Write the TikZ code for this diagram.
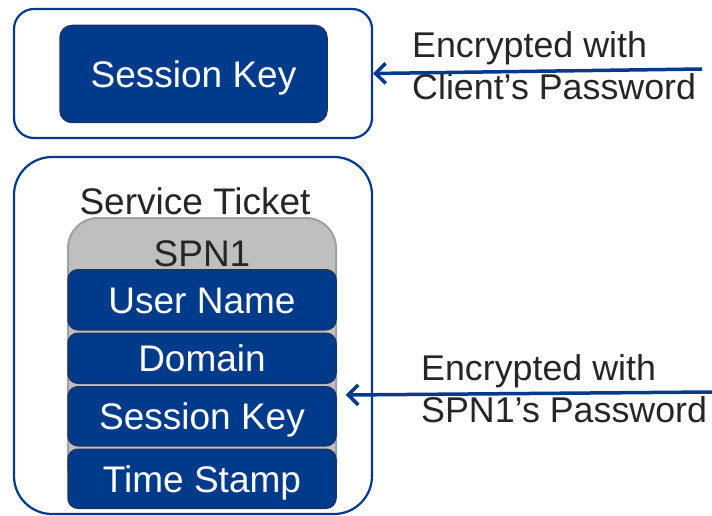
\documentclass[tikz,border=0pt]{standalone}
\usepackage{fontspec}
\setmainfont{Liberation Sans}
\usetikzlibrary{positioning,arrows.meta}

\definecolor{kblu}{RGB}{0,58,138}
\definecolor{kbordo}{RGB}{22,52,104}
\definecolor{kgrigio}{RGB}{38,38,38}
\definecolor{ksfondo}{RGB}{191,191,191}
\definecolor{klinea}{RGB}{160,160,160}

\begin{document}
\begin{tikzpicture}[x=1pt, y=-1pt,
    cornice/.style={draw=kblu, line width=2.2pt, rounded corners=20pt,
                    minimum width=358pt, inner sep=0pt},
    campo/.style={draw=kbordo, fill=kblu, line width=1.5pt, rounded corners=10pt,
                  text=white, font=\fontsize{37}{40}\selectfont,
                  text height=26.5pt, text depth=0pt,
                  minimum width=268pt, inner sep=0pt},
    testo/.style={text=kgrigio, font=\fontsize{37}{40}\selectfont,
                  text height=26.5pt, text depth=0pt, inner sep=0pt},
    nota/.style={align=left, anchor=north west, inner sep=0pt, text=kgrigio,
                 font=\fontsize{35.8}{42}\selectfont},
    freccia/.style={kblu, line width=3.5pt, -{Straight Barb[length=10pt,width=20pt]}}]

    % Area del disegno
    \fill[white] (0,0) rectangle (712,516);
    \useasboundingbox (0,0) rectangle (712,516);

    % Chiave di sessione in alto
    \node[cornice, minimum height=129pt] (alto) at (193,73.5) {};
    \node[campo, minimum width=267pt, minimum height=97pt, rounded corners=12pt]
        (chiave) at (193.5,74) {Session Key};

    % Il ticket di servizio
    \node[cornice, rounded corners=38pt, minimum height=357pt] (basso) at (193,335.5) {};
    \node[testo] (titolo) at (195,201.5) {Service Ticket};
    \node[draw=klinea, fill=ksfondo, line width=2pt, rounded corners=30pt,
          minimum width=268pt, minimum height=278pt, anchor=north] (spn) at (202,217) {};
    \node[testo] (nomespn) at ([yshift=-36pt]spn.north) {SPN1};

    % I campi uno sotto l'altro
    \node[campo, minimum height=60pt, anchor=north] (utente) at (202,269) {User Name};
    \node[campo, minimum height=50pt, below=2pt of utente] (dominio) {Domain};
    \node[campo, minimum height=59pt, below=2pt of dominio] (sessione) {Session Key};
    \node[campo, minimum height=59pt, below=2pt of sessione] (orario) {Time Stamp};

    % Le note a destra
    \node[nota] (nota1) at (412,31) {Encrypted with\\Client’s Password};
    \node[nota] (nota2) at (421,354) {Encrypted with\\SPN1’s Password};

    % Frecce
    \coordinate (coda1) at (702,69);
    \coordinate (coda2) at (712,392);
    \draw[freccia] (coda1) -- (alto.east);
    \draw[freccia] (coda2) -- ([xshift=9pt,yshift=-9pt]sessione.north east);

\end{tikzpicture}
\end{document}
